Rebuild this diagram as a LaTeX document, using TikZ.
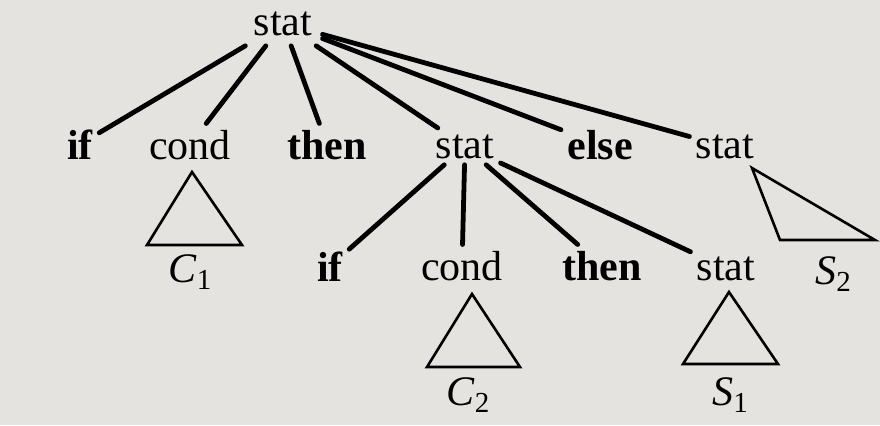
\documentclass[tikz,border=0pt]{standalone}
\usepackage{fontspec}
\setmainfont{Liberation Serif}
\usetikzlibrary{positioning}
\definecolor{paper}{RGB}{229,227,224}
\newcommand{\subl}[2]{\textit{#1}\raisebox{-0.4ex}{\fontsize{14.5}{16}\selectfont #2}}

\begin{document}
\begin{tikzpicture}[x=0.5pt,y=-0.5pt,
    lbl/.style={anchor=base,inner sep=3pt,font=\fontsize{21}{25}\selectfont},
    kw/.style={lbl,font=\fontsize{21}{25}\selectfont\bfseries},
    edge/.style={line width=2.4pt,line cap=round},
    tri/.style={line width=1.3pt,line join=miter}]
\fill[paper] (0,0) rectangle (880,425);

% top level
\node[lbl,inner sep=5pt] (root) at (283,35) {stat};
\node[kw]  (if1) at (80,159) {if};
\node[lbl] (cond1) at (190,159) {cond};
\node[kw]  (then1) at (327,159) {then};
\node[lbl] (stat2) at (465,158) {stat};
\node[kw]  (else) at (600,159) {else};
\node[lbl] (stat3) at (725,158) {stat};

\foreach \t in {if1,cond1,then1,stat2,else,stat3}
  \draw[edge] (root) -- (\t);

% second level
\node[kw]  (if2) at (330,281) {if};
\node[lbl] (cond2) at (462,280) {cond};
\node[kw]  (then2) at (602,280) {then};
\node[lbl] (stat4) at (726,280) {stat};

\foreach \t in {if2,cond2,then2,stat4}
  \draw[edge] (stat2) -- (\t);

% subtrees
\draw[tri] (192,172) -- (242,245) -- (147,245) -- cycle;
\draw[tri] (472,294) -- (520,367) -- (427,367) -- cycle;
\draw[tri] (729,292) -- (778,364) -- (683,364) -- cycle;
\draw[tri] (752,168) -- (875,240) -- (780,240) -- cycle;

\node[lbl] (c1) at (190,282) {\subl{C}{1}};
\node[lbl] (c2) at (468,405) {\subl{C}{2}};
\node[lbl] (s1) at (730,405) {\subl{S}{1}};
\node[lbl] (s2) at (833,284) {\subl{S}{2}};

\end{tikzpicture}
\end{document}
